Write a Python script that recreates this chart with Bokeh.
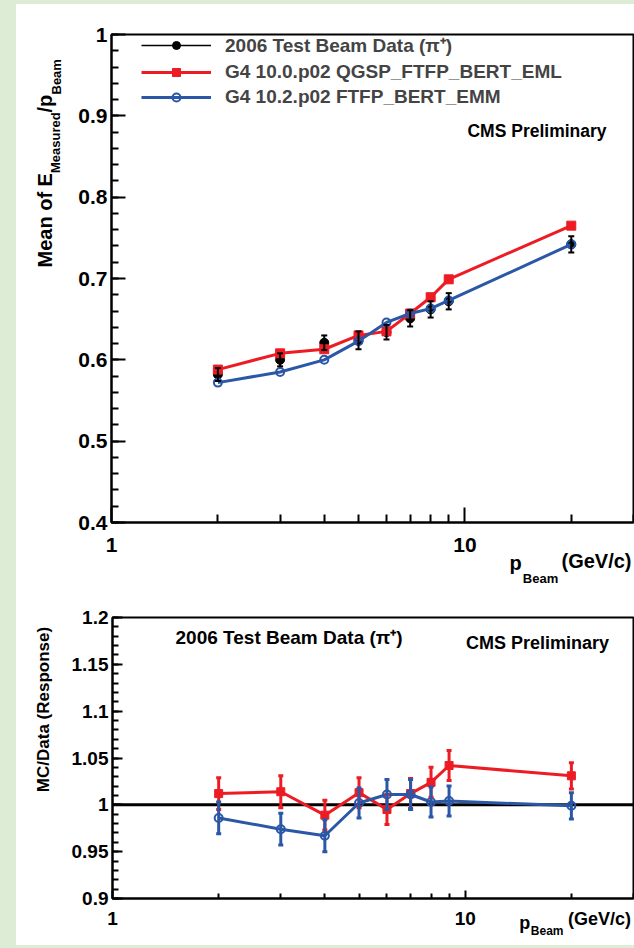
import math
from bokeh.plotting import figure
from bokeh.models import (ColumnDataSource, FixedTicker, Whisker, TeeHead, Label,
                          Legend, LegendItem, Span, Spacer, LogAxis)
from bokeh.layouts import row, column
from bokeh.embed import file_html
from bokeh.resources import INLINE

# ---------------- data ----------------
p_beam = [2, 3, 4, 5, 6, 7, 8, 9, 20]

data_mean = [0.582, 0.600, 0.621, 0.624, 0.634, 0.651, 0.662, 0.672, 0.742]
data_err = [0.008, 0.008, 0.009, 0.011, 0.009, 0.010, 0.010, 0.010, 0.010]

qgsp_mean = [0.588, 0.608, 0.613, 0.630, 0.635, 0.657, 0.677, 0.699, 0.765]
ftfp_mean = [0.572, 0.585, 0.600, 0.623, 0.646, 0.657, 0.663, 0.673, 0.742]

qgsp_ratio = [1.012, 1.014, 0.989, 1.013, 0.995, 1.012, 1.024, 1.042, 1.031]
qgsp_ratio_err = [0.017, 0.017, 0.016, 0.016, 0.016, 0.016, 0.016, 0.016, 0.014]
ftfp_ratio = [0.986, 0.974, 0.967, 1.002, 1.011, 1.011, 1.003, 1.004, 0.999]
ftfp_ratio_err = [0.017, 0.017, 0.017, 0.016, 0.016, 0.016, 0.016, 0.016, 0.014]

x_ticks = [1, 10]
x_tick_labels = ["1", "10"]
x_minor = [2, 3, 4, 5, 6, 7, 8, 9, 20, 30]

top_y_ticks = [0.4, 0.5, 0.6, 0.7, 0.8, 0.9, 1.0]
top_y_labels = ["0.4", "0.5", "0.6", "0.7", "0.8", "0.9", "1"]
top_y_minor = [round(0.4 + 0.02 * i, 2) for i in range(31)]

bot_y_ticks = [0.9, 0.95, 1.0, 1.05, 1.1, 1.15, 1.2]
bot_y_labels = ["0.9", "0.95", "1", "1.05", "1.1", "1.15", "1.2"]
bot_y_minor = [round(0.9 + 0.01 * i, 2) for i in range(31)]

leg_data = "2006 Test Beam Data (\u03c0\u207a)"
leg_qgsp = "G4 10.0.p02 QGSP_FTFP_BERT_EML"
leg_ftfp = "G4 10.2.p02 FTFP_BERT_EMM"

RED = "#ED1C24"
BLUE = "#2B57A7"
GREEN = "#DCECD5"
FONT = "Liberation Sans"
NAN = float("nan")
X_MAX = 30.0
FRAME_W = 522.0  # frame width in px


def x_at(px_from_frame_left):
    """Data x (log axis) whose screen position is the given pixel offset."""
    return round(10 ** (px_from_frame_left / FRAME_W * math.log10(X_MAX)), 4)


def style_axes(p, yt, ylab, yminor, ytick_len, yminor_len, xtick_len, xminor_len, fs, xstand):
    p.xgrid.visible = False
    p.ygrid.visible = False
    p.outline_line_color = "black"
    p.outline_line_width = 2
    p.background_fill_color = "white"
    p.border_fill_color = "white"
    for ax in (p.xaxis[0], p.yaxis[0]):
        ax.axis_line_width = 2
        ax.axis_line_color = "black"
        ax.major_tick_line_width = 2
        ax.minor_tick_line_width = 2
        ax.major_tick_out = 0
        ax.minor_tick_out = 0
        ax.major_label_text_font = FONT
        ax.major_label_text_font_style = "bold"
        ax.major_label_text_font_size = fs
        ax.major_label_text_color = "black"
    xa = p.xaxis[0]
    xa.ticker = FixedTicker(ticks=x_ticks, minor_ticks=x_minor)
    xa.major_label_overrides = {t: l for t, l in zip(x_ticks, x_tick_labels)}
    xa.major_tick_in = xtick_len
    xa.minor_tick_in = xminor_len
    xa.major_label_standoff = xstand
    ya = p.yaxis[0]
    ya.ticker = FixedTicker(ticks=yt, minor_ticks=yminor)
    ya.major_label_overrides = {t: l for t, l in zip(yt, ylab)}
    ya.major_tick_in = ytick_len
    ya.minor_tick_in = yminor_len
    ya.major_label_standoff = 4


def title_piece(p, px, text, size, standoff):
    """A bare axis (no line, no ticks) holding one piece of the x-axis title."""
    xv = x_at(px)
    ax = LogAxis(ticker=FixedTicker(ticks=[xv], minor_ticks=[]),
                 major_label_overrides={xv: text}, major_label_standoff=standoff,
                 major_tick_in=0, major_tick_out=0, minor_tick_in=0, minor_tick_out=0,
                 axis_line_color=None, major_tick_line_color=None, minor_tick_line_color=None,
                 major_label_text_font=FONT, major_label_text_font_style="bold",
                 major_label_text_font_size=size, major_label_text_color="black")
    p.add_layout(ax, "below")


def txt(p, x, y, text, size, angle=0.0, align="left", baseline="alphabetic"):
    p.add_layout(Label(x=x, y=y, x_units="screen", y_units="screen", text=text,
                       text_font=FONT, text_font_style="bold", text_font_size=size,
                       text_color="black", angle=angle, text_align=align,
                       text_baseline=baseline))


def strip(height):
    s = figure(width=52, height=height, x_range=(0, 1), y_range=(0, 1),
               x_axis_location=None, y_axis_location=None, toolbar_location=None,
               output_backend="svg", min_border=0, min_border_left=0, min_border_right=0,
               min_border_top=0, min_border_bottom=0)
    s.outline_line_color = None
    s.xgrid.visible = False
    s.ygrid.visible = False
    s.background_fill_color = "white"
    s.border_fill_color = "white"
    return s


half = math.pi / 2

# ---------------- top panel ----------------
p1 = figure(width=566, height=591, x_axis_type="log", x_range=(1, X_MAX), y_range=(0.4, 1.0),
            output_backend="svg", toolbar_location=None,
            min_border_left=43, min_border_right=1, min_border_top=30, min_border_bottom=73)
style_axes(p1, top_y_ticks, top_y_labels, top_y_minor, 14, 7, 15, 8, "21px", 15)

src_data = ColumnDataSource(dict(x=p_beam, y=data_mean,
                                 lo=[m - e for m, e in zip(data_mean, data_err)],
                                 hi=[m + e for m, e in zip(data_mean, data_err)]))
p1.add_layout(Whisker(source=src_data, base="x", lower="lo", upper="hi", dimension="height",
                      line_color="black", line_width=2,
                      upper_head=TeeHead(size=6, line_color="black", line_width=2),
                      lower_head=TeeHead(size=6, line_color="black", line_width=2),
                      level="glyph"))
data_line_proxy = p1.line(x=[NAN], y=[NAN], line_color="black", line_width=1.5)
data_pts = p1.scatter("x", "y", source=src_data, marker="circle", size=9,
                      fill_color="black", line_color="black")

red_line = p1.line(p_beam, qgsp_mean, line_color=RED, line_width=3)
red_pts = p1.scatter(p_beam, qgsp_mean, marker="square", size=9, fill_color=RED, line_color=RED)
blue_line = p1.line(p_beam, ftfp_mean, line_color=BLUE, line_width=3)
blue_pts = p1.scatter(p_beam, ftfp_mean, marker="circle", size=8, fill_alpha=0,
                      line_color=BLUE, line_width=2)

legend = Legend(items=[LegendItem(label=leg_data, renderers=[data_line_proxy, data_pts]),
                       LegendItem(label=leg_qgsp, renderers=[red_line, red_pts]),
                       LegendItem(label=leg_ftfp, renderers=[blue_line, blue_pts])],
                location=(30, 414), padding=0, margin=0, spacing=3,
                glyph_width=70, glyph_height=20, label_height=20, label_standoff=14,
                label_text_font=FONT, label_text_font_style="bold",
                label_text_font_size="19px", border_line_alpha=0, background_fill_alpha=0)
p1.add_layout(legend, "center")

txt(p1, 425.5, 392, "CMS Preliminary", "17.5px", align="center")

# x-axis title pieces: p_Beam (GeV/c)
title_piece(p1, 485, "(GeV/c)", "20px", -5)
title_piece(p1, 404, "p", "20px", -23)
title_piece(p1, 429, "Beam", "13px", -6)

s1 = strip(591)
txt(s1, 28, 255, "Mean of E", "20px", angle=half)
txt(s1, 39, 349.5, "Measured", "13px", angle=half)
txt(s1, 28, 410, "/p", "20px", angle=half)
txt(s1, 40, 428, "Beam", "13px", angle=half)

# ---------------- bottom panel ----------------
p2 = figure(width=566, height=350, x_axis_type="log", x_range=(1, X_MAX), y_range=(0.9, 1.2),
            output_backend="svg", toolbar_location=None,
            min_border_left=43, min_border_right=1, min_border_top=22, min_border_bottom=47)
style_axes(p2, bot_y_ticks, bot_y_labels, bot_y_minor, 10, 6, 8, 5, "19px", 13)

p2.add_layout(Span(location=1.0, dimension="width", line_color="black", line_width=3,
                   level="underlay"))

src_r = ColumnDataSource(dict(x=p_beam, y=qgsp_ratio,
                              lo=[m - e for m, e in zip(qgsp_ratio, qgsp_ratio_err)],
                              hi=[m + e for m, e in zip(qgsp_ratio, qgsp_ratio_err)]))
src_b = ColumnDataSource(dict(x=p_beam, y=ftfp_ratio,
                              lo=[m - e for m, e in zip(ftfp_ratio, ftfp_ratio_err)],
                              hi=[m + e for m, e in zip(ftfp_ratio, ftfp_ratio_err)]))

for src, col in ((src_r, RED), (src_b, BLUE)):
    p2.add_layout(Whisker(source=src, base="x", lower="lo", upper="hi", dimension="height",
                          line_color=col, line_width=3,
                          upper_head=TeeHead(size=5, line_color=col, line_width=3),
                          lower_head=TeeHead(size=5, line_color=col, line_width=3),
                          level="glyph"))
p2.line("x", "y", source=src_r, line_color=RED, line_width=3)
p2.scatter("x", "y", source=src_r, marker="square", size=8, fill_color=RED, line_color=RED)
p2.line("x", "y", source=src_b, line_color=BLUE, line_width=3)
p2.scatter("x", "y", source=src_b, marker="circle", size=8, fill_color="white",
           fill_alpha=0, line_color=BLUE, line_width=2)

txt(p2, 63, 261, leg_data, "19px")
txt(p2, 425, 256, "CMS Preliminary", "18px", align="center")

title_piece(p2, 488, "(GeV/c)", "18px", -19)
title_piece(p2, 413, "p", "18px", -19)
title_piece(p2, 435.5, "Beam", "12px", -12)

s2 = strip(350)
txt(s2, 27, 189, "MC/Data (Response)", "17px", angle=half, align="center")

inner = column(Spacer(width=618, height=4, styles={"background-color": GREEN}),
               row(s1, p1), row(s2, p2),
               Spacer(width=618, height=3, styles={"background-color": GREEN}),
               styles={"background-color": "white"})
layout = row(Spacer(width=16, height=948, styles={"background-color": GREEN}), inner,
             styles={"background-color": GREEN})

open("out.html", "w").write(file_html(layout, INLINE))
